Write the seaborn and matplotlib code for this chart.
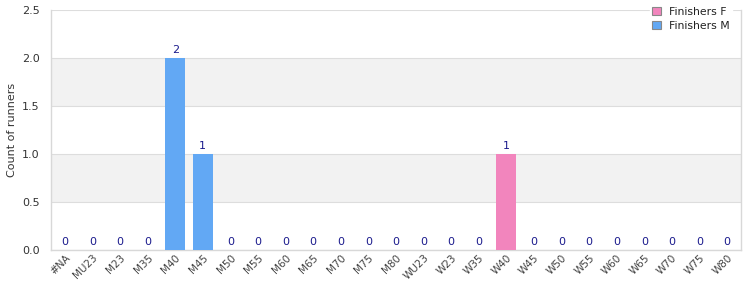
import matplotlib
matplotlib.use("Agg")
import matplotlib.pyplot as plt
import seaborn as sns
import pandas as pd
from matplotlib.patches import Patch

categories = ["#NA", "MU23", "M23", "M35", "M40", "M45", "M50", "M55", "M60", "M65",
              "M70", "M75", "M80", "WU23", "W23", "W35", "W40", "W45", "W50", "W55",
              "W60", "W65", "W70", "W75", "W80"]
finishers_f = [0, 0, 0, 0, 0, 0, 0, 0, 0, 0, 0, 0, 0, 0, 0, 0, 1, 0, 0, 0, 0, 0, 0, 0, 0]
finishers_m = [0, 0, 0, 0, 2, 1, 0, 0, 0, 0, 0, 0, 0, 0, 0, 0, 0, 0, 0, 0, 0, 0, 0, 0, 0]
series_names = ["Finishers F", "Finishers M"]
colors = {"Finishers F": "#f285bd", "Finishers M": "#62a8f4"}

rows = []
for c, f, m in zip(categories, finishers_f, finishers_m):
    rows.append({"cat": c, "series": "Finishers F", "count": f})
    rows.append({"cat": c, "series": "Finishers M", "count": m})
df = pd.DataFrame(rows)

sns.set_theme(style="white")
plt.rcParams['font.family'] = ['DejaVu Sans']

fig = plt.figure(figsize=(7.5, 3), dpi=100)
ax = fig.add_axes([0.068, 0.167, 0.92, 0.8])

# alternating bands
for lo in [0.5, 1.5]:
    ax.axhspan(lo, lo + 0.5, color="#f2f2f2", zorder=0, lw=0)

sns.barplot(data=df, x="cat", y="count", hue="series", dodge=False,
            palette=colors, order=categories, hue_order=series_names,
            width=0.72, ax=ax, legend=False, zorder=3, saturation=1, linewidth=0)

ax.set_ylim(0, 2.5)
ax.set_xlim(-0.5, len(categories) - 0.5)
ax.set_yticks([0, 0.5, 1.0, 1.5, 2.0, 2.5])
ax.set_yticklabels(["0.0", "0.5", "1.0", "1.5", "2.0", "2.5"])
ax.yaxis.grid(True, color="#dddddd", lw=0.8, zorder=1)
ax.set_axisbelow(True)
for s in ax.spines.values():
    s.set_color("#d8d8d8")
    s.set_linewidth(1)
ax.spines["top"].set_visible(False)

ax.set_xlabel("")
ax.set_ylabel("Count of runners", fontsize=8, color="#333333")
ax.tick_params(axis="y", labelsize=8, colors="#333333", length=0, pad=8)
ax.tick_params(axis="x", labelsize=7.5, colors="#444444", length=0, pad=2)
plt.setp(ax.get_xticklabels(), rotation=45, ha="right", rotation_mode="anchor")

totals = [f + m for f, m in zip(finishers_f, finishers_m)]
for i, t in enumerate(totals):
    ax.text(i, t + 0.03, f"{t}", ha="center", va="bottom", fontsize=8, color="#1a1a8c", zorder=5)

handles = [Patch(facecolor=colors[n], edgecolor="#888888", lw=0.8) for n in series_names]
leg = ax.legend(handles, series_names, loc="upper right", bbox_to_anchor=(0.995, 1.045),
                frameon=True, fontsize=7.8, handlelength=0.8, handleheight=0.8,
                handletextpad=0.8, borderpad=0.2, labelspacing=0.4)
leg.get_frame().set_facecolor("white")
leg.get_frame().set_edgecolor("white")
leg.get_frame().set_alpha(1)
leg.set_zorder(10)
for t in leg.get_texts():
    t.set_color("#222222")

fig.savefig("out.png", dpi=100)
